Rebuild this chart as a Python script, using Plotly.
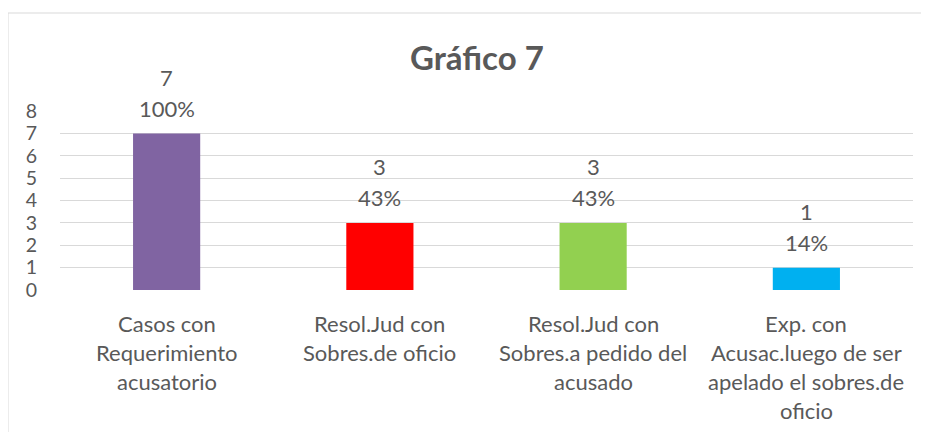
import plotly.graph_objects as go

categories = [
    "Casos con<br>Requerimiento<br>acusatorio",
    "Resol.Jud con<br>Sobres.de oficio",
    "Resol.Jud con<br>Sobres.a pedido del<br>acusado",
    "Exp. con<br>Acusac.luego de ser<br>apelado el sobres.de<br>oficio",
]
values = [7, 3, 3, 1]
percent_labels = ["100%", "43%", "43%", "14%"]
colors = ["#8064A2", "#FF0000", "#92D050", "#00B0F0"]
y_ticks = [0, 1, 2, 3, 4, 5, 6, 7, 8]
title = "Gráfico 7"

FONT = "Lato"
TXT = "#595959"

# page has an 8px body margin; figure coordinates = page coordinates - 8
OFF = 8
W, H = 929 - OFF, 432 - OFF
ML = 60 - OFF
MT = 111 - OFF
PR = 913 - OFF
PB = 290 - OFF
MR = W - PR
MB = H - PB
PW, PH = W - ML - MR, H - MT - MB

cat_ids = list(range(len(categories)))

fig = go.Figure(go.Bar(
    x=cat_ids, y=values, marker=dict(color=colors, line=dict(width=0)),
    width=0.315, hoverinfo="skip",
))

ann = []
for i, v in enumerate(values):
    ann.append(dict(x=i, y=v, xref="x", yref="y", text=percent_labels[i], showarrow=False,
                    yanchor="middle", yshift=25, font=dict(family=FONT, size=22, color=TXT)))
    ann.append(dict(x=i, y=v, xref="x", yref="y", text=str(v), showarrow=False,
                    yanchor="middle", yshift=56, font=dict(family=FONT, size=22, color=TXT)))
for i, lab in enumerate(categories):
    for j, line in enumerate(lab.split("<br>")):
        ann.append(dict(x=i, y=0, xref="x", yref="paper", text=line, showarrow=False,
                        yanchor="middle", yshift=-(33 + 29.3 * j),
                        font=dict(family=FONT, size=22, color=TXT)))
ann.append(dict(x=(477 - OFF - ML) / PW, y=(PB - (57 - OFF)) / PH, xref="paper", yref="paper",
                text="<b>" + title + "</b>", showarrow=False, yanchor="middle", xanchor="center",
                font=dict(family=FONT, size=33, color=TXT)))

fig.update_layout(
    width=W, height=H,
    margin=dict(l=ML, r=MR, t=MT, b=MB, pad=0),
    paper_bgcolor="white", plot_bgcolor="white",
    showlegend=False,
    annotations=ann,
    xaxis=dict(range=[-0.5, len(categories) - 0.5], showticklabels=False, showgrid=False,
               zeroline=False, showline=False, ticks="", fixedrange=True),
    yaxis=dict(range=[0, 8], tickvals=y_ticks, showgrid=True, gridcolor="#D9D9D9", gridwidth=1,
               zeroline=False, showline=False, ticks="", ticklabelstandoff=22,
               tickfont=dict(family=FONT, size=19.5, color=TXT), fixedrange=True),
    shapes=[dict(type="rect", xref="paper", yref="paper",
                 x0=(8 - OFF - ML) / PW, x1=(W + 30 - ML) / PW,
                 y0=(PB - (H + 30)) / PH, y1=(PB - (13 - OFF)) / PH,
                 line=dict(color="#D9D9D9", width=1), fillcolor="rgba(0,0,0,0)", layer="below")],
)

fig.write_html("out.html", config={"displayModeBar": False})
